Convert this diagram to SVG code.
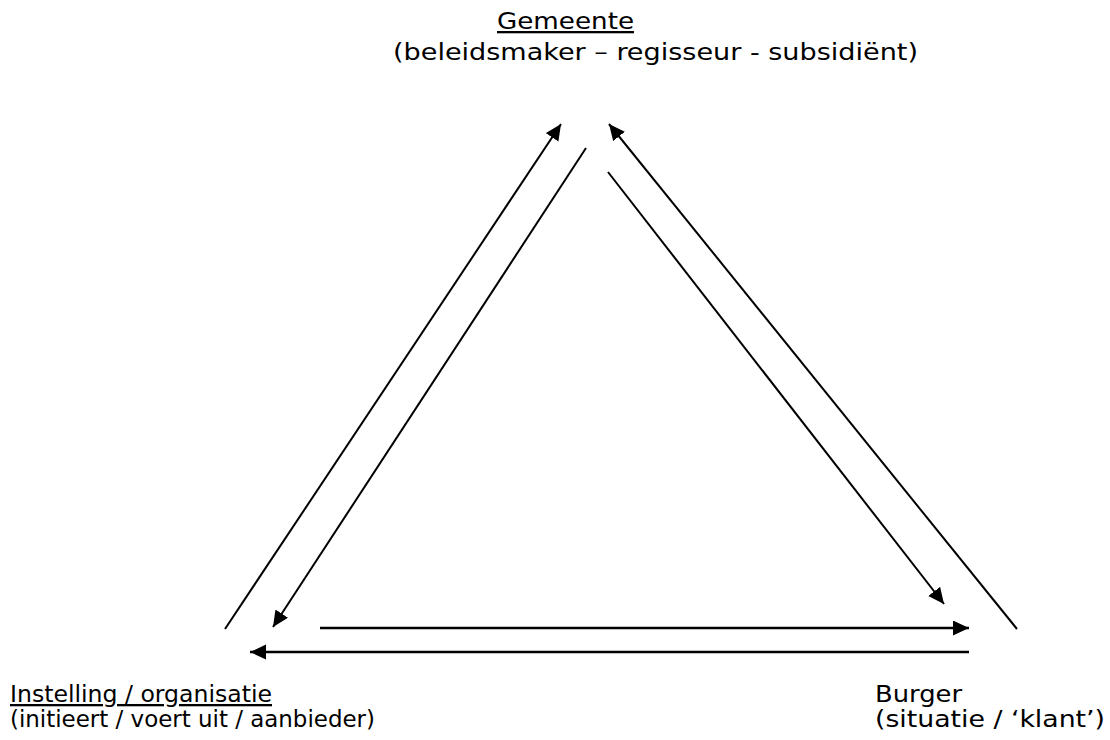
<svg xmlns="http://www.w3.org/2000/svg" width="1110" height="740" viewBox="0 0 1110 740">
  <style>
    text { font-family: "DejaVu Sans Condensed", "DejaVu Sans", Tahoma, sans-serif; font-size: 23px; fill: #000; }
    .u { text-decoration: underline; }
    .c { stroke: #000; stroke-width: 2; fill: none; marker-end: url(#ah); }
    .h { stroke-width: 2.4; }
  </style>
  <defs>
    <marker id="ah" markerUnits="userSpaceOnUse" markerWidth="18" markerHeight="16" refX="16" refY="7.5" orient="auto">
      <path d="M0,0 L16,7.5 L0,15 z" fill="#000"/>
    </marker>
  </defs>
  <rect width="1110" height="740" fill="#fff"/>
  <g id="connectors">
    <line class="c" x1="225" y1="629" x2="561" y2="124"/>
    <line class="c" x1="586" y1="148" x2="273" y2="627"/>
    <line class="c" x1="608" y1="172" x2="944" y2="604"/>
    <line class="c" x1="1017" y1="629" x2="609" y2="124"/>
    <line class="c h" x1="320" y1="628" x2="969" y2="628"/>
    <line class="c h" x1="969" y1="652" x2="250" y2="652"/>
  </g>
  <g id="node-gemeente">
    <text class="u" x="497" y="29" textLength="137" lengthAdjust="spacingAndGlyphs">Gemeente</text>
    <text x="393" y="60" textLength="525" lengthAdjust="spacingAndGlyphs">(beleidsmaker – regisseur - subsidiënt)</text>
  </g>
  <g id="node-instelling">
    <text class="u" x="10" y="702" textLength="262" lengthAdjust="spacingAndGlyphs">Instelling / organisatie</text>
    <text x="10" y="727" textLength="365" lengthAdjust="spacingAndGlyphs">(initieert / voert uit / aanbieder)</text>
  </g>
  <g id="node-burger">
    <text x="875" y="702" textLength="87" lengthAdjust="spacingAndGlyphs">Burger</text>
    <text x="875" y="727" textLength="230" lengthAdjust="spacingAndGlyphs">(situatie / ‘klant’)</text>
  </g>
</svg>
